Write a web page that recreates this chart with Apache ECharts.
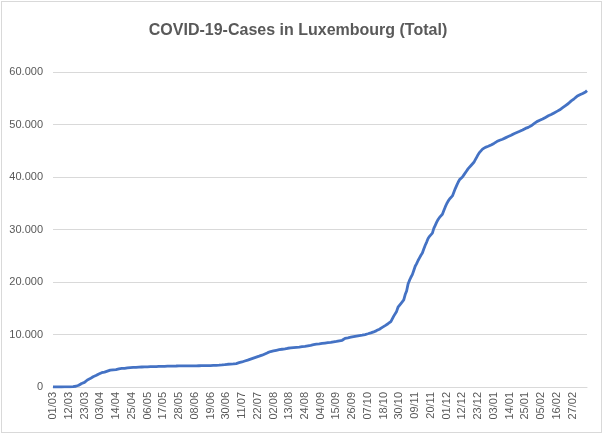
<!DOCTYPE html>
<html>
<head>
<meta charset="utf-8">
<script src="https://cdn.jsdelivr.net/npm/echarts@6/dist/echarts.min.js"></script>
<style>
  html, body { margin: 0; padding: 0; background: #fff; }
  #chart { position: absolute; left: 0; top: 0; width: 603px; height: 434px; }
  #frame { position: absolute; left: 1px; top: 1px; width: 599px; height: 430px; border: 1px solid #d9d9d9; pointer-events: none; }
</style>
</head>
<body>
<div id="chart"></div>
<div id="frame"></div>
<script>
// Daily cumulative cases, one array per month
const mar20 = [1,1,1,2,2,3,3,4,5,7,7,26,34,51,77,81,140,203,335,484,670,798,875,1099,1333,1453,1605,1831,1950,1988,2178];
const apr20 = [2319,2487,2612,2729,2804,2843,2970,3034,3115,3223,3270,3281,3292,3307,3373,3444,3480,3537,3550,3558,3618,3654,3665,3695,3711,3723,3729,3741,3769,3784];
const may20 = [3802,3812,3824,3828,3840,3851,3859,3871,3877,3886,3888,3894,3904,3915,3923,3930,3945,3947,3958,3971,3980,3981,3990,3993,3995,3999,4004,4012,4016,4018,4019];
const jun20 = [4020,4022,4024,4027,4030,4033,4035,4037,4039,4042,4046,4050,4053,4056,4060,4063,4068,4075,4085,4095,4105,4115,4125,4140,4160,4180,4205,4230,4260,4300];
const jul20 = [4330,4350,4370,4380,4390,4400,4470,4550,4630,4700,4770,4860,4950,5040,5130,5220,5320,5415,5510,5600,5690,5780,5870,5960,6060,6180,6300,6420,6540,6660,6750];
const aug20 = [6830,6880,6940,6990,7050,7100,7150,7190,7240,7280,7330,7380,7410,7440,7470,7500,7530,7560,7590,7610,7650,7690,7720,7750,7790,7840,7880,7930,7990,8050,8110];
const sep20 = [8150,8180,8210,8250,8290,8330,8370,8410,8450,8480,8510,8550,8600,8640,8690,8740,8800,8850,8900,9100,9270,9320,9370,9420,9480,9540,9590,9630,9680,9720];
const oct20 = [9770,9810,9860,9920,9990,10060,10140,10220,10300,10380,10490,10610,10740,10880,11010,11150,11350,11520,11690,11850,12050,12300,12450,12530,13500,13800,14400,15200,15500,15900,16150];
const nov20 = [16600,17600,18300,19600,20300,20900,21400,22200,23000,23500,24100,24600,25100,25530,26300,27000,27600,28300,28700,29000,29300,30200,30800,31400,31900,32300,32600,32900,33600,34300];
const dec20 = [34900,35400,35800,36100,36400,37100,37800,38400,39000,39500,39800,40000,40400,40750,41200,41600,41900,42200,42500,42800,43300,43800,44300,44700,45000,45300,45530,45650,45750,45850,45950];
const jan21 = [46100,46250,46400,46550,46750,46900,47000,47100,47200,47300,47450,47600,47700,47800,47950,48100,48250,48350,48480,48600,48700,48800,48950,49100,49250,49340,49450,49600,49750,49950,50150];
const feb21 = [50300,50550,50700,50800,50900,51050,51200,51350,51500,51650,51800,51900,52050,52200,52350,52500,52650,52800,53000,53200,53400,53600,53780,54000,54250,54500,54700,54900];
const mar21 = [55100,55360,55500,55650,55800,55900,56000,56200,56450];

// Tick labels as printed on the x axis (every 11th category)
const tickLabels = ["01/03","12/03","23/03","03/04","14/04","25/04","06/05","17/05","28/05","08/06","19/06","30/06","11/07","22/07","02/08","13/08","24/08","04/09","15/09","26/09","07/10","18/10","30/10","09/11","20/11","01/12","12/12","23/12","03/01","14/01","25/01","05/02","16/02","27/02"];

const values = [].concat(mar20, apr20, may20, jun20, jul20, aug20, sep20, oct20, nov20, dec20, jan21, feb21, mar21);

// Daily date categories starting 01/03/2020
const categories = [];
{
  const d = new Date(Date.UTC(2020, 2, 1));
  for (let i = 0; i < values.length; i++) {
    const dd = String(d.getUTCDate()).padStart(2, '0');
    const mm = String(d.getUTCMonth() + 1).padStart(2, '0');
    categories.push(dd + '/' + mm);
    d.setUTCDate(d.getUTCDate() + 1);
  }
}

const fmtThousands = v => String(v).replace(/\B(?=(\d{3})+(?!\d))/g, '.');

const chart = echarts.init(document.getElementById('chart'), null, { renderer: 'canvas' });
chart.setOption({
  animation: false,
  backgroundColor: '#ffffff',
  title: {
    text: 'COVID-19-Cases in Luxembourg (Total)',
    left: 293, top: 18, textAlign: 'center',
    textStyle: { fontFamily: 'Liberation Sans', fontSize: 16, fontWeight: 'bold', color: '#595959' }
  },
  grid: { left: 53, right: 16, top: 72, bottom: 47, containLabel: false },
  xAxis: {
    type: 'category',
    data: categories,
    boundaryGap: false,
    axisLine: { lineStyle: { color: '#d9d9d9', width: 1 } },
    axisTick: { show: false },
    axisLabel: {
      interval: 10,
      rotate: 90,
      margin: 5,
      color: '#595959',
      fontFamily: 'Liberation Sans',
      fontSize: 11,
      formatter: (v, i) => (i % 11 === 0 && tickLabels[i / 11] !== undefined) ? tickLabels[i / 11] : ''
    },
    splitLine: { show: false }
  },
  yAxis: {
    type: 'value',
    min: 0, max: 60000, interval: 10000,
    axisLine: { show: false },
    axisTick: { show: false },
    axisLabel: {
      margin: 10,
      color: '#595959',
      fontFamily: 'Liberation Sans',
      fontSize: 11,
      formatter: v => fmtThousands(v)
    },
    splitLine: { lineStyle: { color: '#d9d9d9', width: 1 } }
  },
  series: [{
    type: 'line',
    data: values,
    showSymbol: false,
    symbol: 'none',
    lineStyle: { color: '#4472C4', width: 2.8 },
    itemStyle: { color: '#4472C4' }
  }]
});
</script>
</body>
</html>
